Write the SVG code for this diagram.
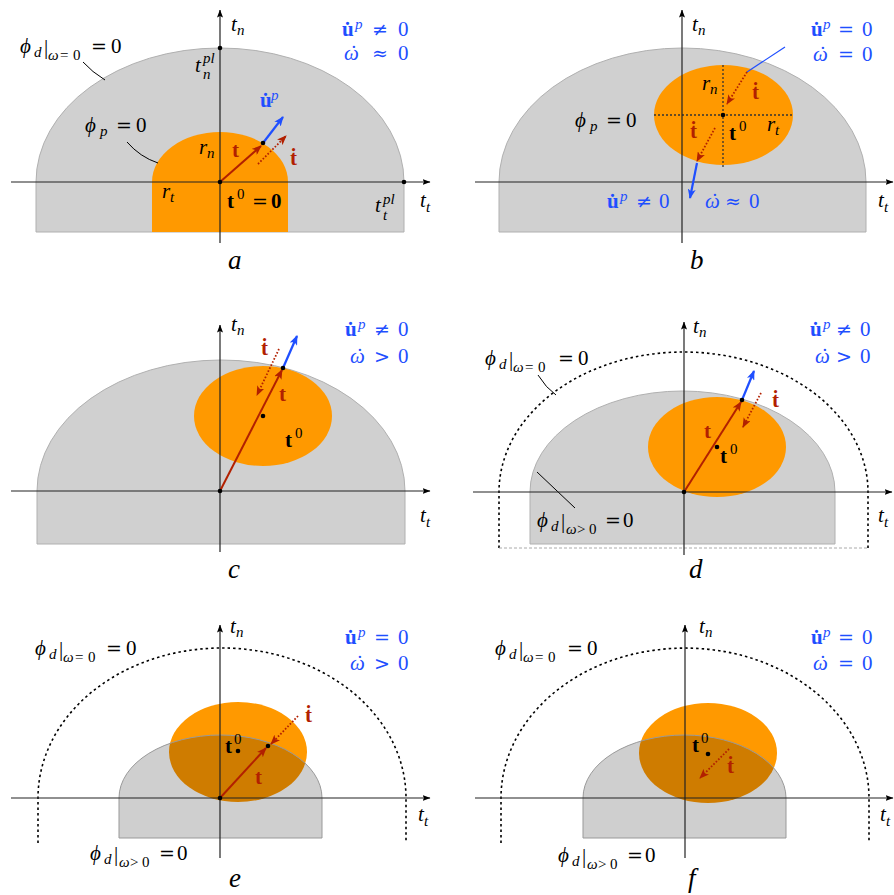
<svg xmlns="http://www.w3.org/2000/svg" width="894" height="895" viewBox="0 0 894 895">
<style>
text { font-family: "Liberation Serif", "DejaVu Serif", serif; font-size: 21px; fill: #000; }
.i { font-style: italic; }
.b { font-weight: bold; }
.s { font-size: 15px; }
.r { font-family: "DejaVu Serif", serif; font-size: 19px; font-style: normal; }
.blue { fill: #1f4fff; }
.red { fill: #b22000; }
.lab { font-size: 27px; font-style: italic; }
.gray { fill: #d0d0d0; stroke: #b0b0b0; stroke-width: 1; }
.grayt { fill: #000; fill-opacity: 0.19; stroke: #999; stroke-width: 1; }
.orange { fill: #ff9900; stroke: none; }
.axis { stroke: #222; stroke-width: 1.2; fill: none; marker-end: url(#ak); }
.outer { stroke: #000; stroke-width: 1.6; stroke-dasharray: 2.5 3; fill: none; }
.lead { stroke: #000; stroke-width: 1; fill: none; }
.rv { stroke: #b22000; stroke-width: 2; fill: none; marker-end: url(#ar); }
.rd { stroke: #b22000; stroke-width: 1.8; stroke-dasharray: 1.6 1.8; fill: none; marker-end: url(#ar); }
.bv { stroke: #1f4fff; stroke-width: 2.2; fill: none; marker-end: url(#ab); }
.cd { stroke: #333; stroke-width: 1.3; stroke-dasharray: 2 2; fill: none; }
</style>
<defs>
<marker id="ar" viewBox="0 0 10 8" markerWidth="10" markerHeight="8" refX="9" refY="4" orient="auto" markerUnits="userSpaceOnUse"><path d="M0,0 L10,4 L0,8 L2.5,4 Z" fill="#b22000"/></marker>
<marker id="ab" viewBox="0 0 10 8" markerWidth="10" markerHeight="8" refX="9" refY="4" orient="auto" markerUnits="userSpaceOnUse"><path d="M0,0 L10,4 L0,8 L2.5,4 Z" fill="#1f4fff"/></marker>
<marker id="ak" viewBox="0 0 8 6" markerWidth="8" markerHeight="6" refX="7.5" refY="3" orient="auto" markerUnits="userSpaceOnUse"><path d="M0,0 L8,3 L0,6 L1.5,3 Z" fill="#000"/></marker>
</defs>
<rect x="0" y="0" width="894" height="895" fill="#fff"/>

<!-- Panel a -->
<g id="panel-a">
<path class="gray" d="M36,182 A184,134 0 0 1 404,182 L404,232 L36,232 Z"/>
<path class="orange" d="M152,182 A68,50 0 0 1 288,182 L288,232 L152,232 Z"/>
<path class="lead" d="M83,62 Q92,72 105,80"/>
<path class="lead" d="M127,142 Q140,157 158,163"/>
<path class="axis" d="M11,182 L430,182"/>
<path class="axis" d="M220,243 L220,10"/>
<path class="rv" d="M220,182 L261,146"/>
<path class="bv" d="M263,143 L283,117"/>
<path class="rd" d="M258,164 L286,136"/>
<circle cx="220" cy="182" r="2.3"/>
<circle cx="220" cy="48" r="2.3"/>
<circle cx="404" cy="182" r="2.3"/>
<circle cx="263" cy="143" r="2.3"/>
<text class="i" x="231" y="31">t</text><text class="i s" x="237" y="35">n</text>
<text y="36" class="blue"><tspan x="342" class="b">u̇</tspan><tspan x="355" dy="-7" class="i s">p</tspan><tspan x="372" dy="7" class="r">≠</tspan><tspan x="398">0</tspan></text>
<text y="60" class="blue"><tspan x="344" class="i">ω</tspan><tspan x="349" class="i">˙</tspan><tspan x="372" class="r">≈</tspan><tspan x="398">0</tspan></text>
<text y="53"><tspan x="20" class="i">ϕ</tspan><tspan x="34" dy="4" class="i s">d</tspan><tspan x="44" dy="-3">|</tspan><tspan x="48" dy="6" class="i s">ω</tspan><tspan x="60" class="s">=</tspan><tspan x="73" class="s">0</tspan><tspan x="91" dy="-7" class="r">=</tspan><tspan x="111">0</tspan></text>
<text class="i" x="195" y="72">t</text><text class="i s" x="203" y="63">pl</text><text class="i s" x="203" y="79">n</text>
<text class="i" x="375" y="212">t</text><text class="i s" x="383" y="204">pl</text><text class="i s" x="383" y="220">t</text>
<text class="i" x="420" y="207">t</text><text class="i s" x="426" y="212">t</text>
<text y="132"><tspan x="85" class="i">ϕ</tspan><tspan x="100" dy="4" class="i s">p</tspan><tspan x="116" dy="-4" class="r">=</tspan><tspan x="136">0</tspan></text>
<text class="i" x="199" y="154">r</text><text class="i s" x="207" y="158">n</text>
<text class="i" x="162" y="198">r</text><text class="i s" x="170" y="202">t</text>
<text y="208"><tspan x="227" class="b">t</tspan><tspan x="237" dy="-9" class="s">0</tspan><tspan x="252" dy="9" class="r">=</tspan><tspan x="271" class="b">0</tspan></text>
<text class="b red" x="232" y="157">t</text>
<text class="b red" x="290" y="165">ṫ</text>
<text class="b blue" x="260" y="107">u̇</text><text class="i s blue" x="271" y="100">p</text>
<text class="lab" x="228" y="269">a</text>
</g>

<!-- Panel b -->
<g id="panel-b">
<path class="gray" d="M499,182 A183.5,134 0 0 1 866,182 L866,232 L499,232 Z"/>
<ellipse class="orange" cx="723.5" cy="115" rx="69.5" ry="50"/>
<path class="cd" d="M654,115 L793,115 M723,65 L723,168"/>
<path class="axis" d="M475,182 L893,182"/>
<path class="axis" d="M682,243 L682,10"/>
<path d="M785,47 L747,72" stroke="#1f4fff" stroke-width="1.2" fill="none"/>
<path class="rd" d="M747,72 L727,104"/>
<path class="rd" d="M715,128 L697,161"/>
<path class="bv" d="M697,163 L690,198"/>
<circle cx="723" cy="115" r="2.3"/>
<text class="i" x="692" y="31">t</text><text class="i s" x="698" y="35">n</text>
<text y="36" class="blue"><tspan x="811" class="b">u̇</tspan><tspan x="823" dy="-7" class="i s">p</tspan><tspan x="838" dy="7" class="r">=</tspan><tspan x="862">0</tspan></text>
<text y="61" class="blue"><tspan x="813" class="i">ω</tspan><tspan x="818" class="i">˙</tspan><tspan x="838" class="r">=</tspan><tspan x="862">0</tspan></text>
<text y="127"><tspan x="575" class="i">ϕ</tspan><tspan x="590" dy="4" class="i s">p</tspan><tspan x="606" dy="-4" class="r">=</tspan><tspan x="626">0</tspan></text>
<text class="i" x="702" y="90">r</text><text class="i s" x="710" y="94">n</text>
<text class="i" x="767" y="131">r</text><text class="i s" x="775" y="135">t</text>
<text class="b red" x="752" y="99">ṫ</text>
<text class="b red" x="690" y="138">ṫ</text>
<text y="140"><tspan x="729" class="b">t</tspan><tspan x="739" dy="-9" class="s">0</tspan></text>
<text y="208" class="blue"><tspan x="607" class="b">u̇</tspan><tspan x="620" dy="-7" class="i s">p</tspan><tspan x="636" dy="7" class="r">≠</tspan><tspan x="659">0</tspan></text>
<text y="208" class="blue"><tspan x="705" class="i">ω</tspan><tspan x="710" class="i">˙</tspan><tspan x="725" class="r">≈</tspan><tspan x="749">0</tspan></text>
<text class="i" x="878" y="207">t</text><text class="i s" x="884" y="212">t</text>
<text class="lab" x="690" y="269">b</text>
</g>

<!-- Panel c -->
<g id="panel-c">
<path class="gray" d="M37,491 A184,131 0 0 1 405,491 L405,544 L37,544 Z"/>
<ellipse class="orange" cx="263" cy="416" rx="69" ry="50"/>
<path class="axis" d="M11,491 L430,491"/>
<path class="axis" d="M220,552 L220,325"/>
<path class="rv" d="M220,491 L282,370"/>
<path class="bv" d="M283,368 L297,336"/>
<path class="rd" d="M279,349 L257,395"/>
<circle cx="220" cy="491" r="2.3"/>
<circle cx="283" cy="368" r="2.3"/>
<circle cx="263" cy="416" r="2.3"/>
<text class="i" x="231" y="331">t</text><text class="i s" x="237" y="335">n</text>
<text y="336" class="blue"><tspan x="345" class="b">u̇</tspan><tspan x="358" dy="-7" class="i s">p</tspan><tspan x="374" dy="7" class="r">≠</tspan><tspan x="398">0</tspan></text>
<text y="363" class="blue"><tspan x="350" class="i">ω</tspan><tspan x="355" class="i">˙</tspan><tspan x="374" class="r">&gt;</tspan><tspan x="398">0</tspan></text>
<text class="b red" x="261" y="355">ṫ</text>
<text class="b red" x="279" y="401">t</text>
<text y="447"><tspan x="285" class="b">t</tspan><tspan x="295" dy="-9" class="s">0</tspan></text>
<text class="i" x="420" y="522">t</text><text class="i s" x="426" y="527">t</text>
<text class="lab" x="228" y="578">c</text>
</g>

<!-- Panel d -->
<g id="panel-d">
<path class="gray" d="M530,492 A152.5,101 0 0 1 835,492 L835,544 L530,544 Z"/>
<path class="outer" d="M499,548 L499,492 A184.5,140 0 0 1 868,492 L868,548"/>
<path d="M499,548 L868,548" stroke="#aaa" stroke-width="1" stroke-dasharray="3 2" fill="none"/>
<ellipse class="orange" cx="717" cy="447" rx="69" ry="50"/>
<path class="lead" d="M538,375 Q546,388 556,395"/>
<path class="lead" d="M537,472 L575,508"/>
<path class="axis" d="M473,492 L892,492"/>
<path class="axis" d="M684,555 L684,322"/>
<path class="rv" d="M684,492 L741,402"/>
<path class="bv" d="M742,400 L754,371"/>
<path class="rd" d="M761,393 L743,427"/>
<circle cx="684" cy="492" r="2.3"/>
<circle cx="742" cy="400" r="2.3"/>
<circle cx="717" cy="447" r="2.3"/>
<text class="i" x="693" y="333">t</text><text class="i s" x="699" y="337">n</text>
<text y="336" class="blue"><tspan x="810" class="b">u̇</tspan><tspan x="823" dy="-7" class="i s">p</tspan><tspan x="836" dy="7" class="r">≠</tspan><tspan x="860">0</tspan></text>
<text y="363" class="blue"><tspan x="815" class="i">ω</tspan><tspan x="820" class="i">˙</tspan><tspan x="836" class="r">&gt;</tspan><tspan x="860">0</tspan></text>
<text y="365"><tspan x="485" class="i">ϕ</tspan><tspan x="499" dy="4" class="i s">d</tspan><tspan x="509" dy="-3">|</tspan><tspan x="513" dy="6" class="i s">ω</tspan><tspan x="525" class="s">=</tspan><tspan x="538" class="s">0</tspan><tspan x="558" dy="-7" class="r">=</tspan><tspan x="578">0</tspan></text>
<text class="b red" x="772" y="407">ṫ</text>
<text class="b red" x="704" y="438">t</text>
<text y="463"><tspan x="720" class="b">t</tspan><tspan x="730" dy="-9" class="s">0</tspan></text>
<text y="527"><tspan x="537" class="i">ϕ</tspan><tspan x="551" dy="4" class="i s">d</tspan><tspan x="561" dy="-3">|</tspan><tspan x="566" dy="6" class="i s">ω</tspan><tspan x="577" class="s">&gt;</tspan><tspan x="589" class="s">0</tspan><tspan x="605" dy="-7" class="r">=</tspan><tspan x="623">0</tspan></text>
<text class="i" x="878" y="522">t</text><text class="i s" x="884" y="527">t</text>
<text class="lab" x="689" y="578">d</text>
</g>

<!-- Panel e -->
<g id="panel-e">
<path class="outer" d="M38,843 L38,798 A184,150 0 0 1 406,798 L406,843"/>
<ellipse class="orange" cx="238" cy="752" rx="69" ry="50"/>
<path class="grayt" d="M119,798 A101.5,63 0 0 1 322,798 L322,838 L119,838 Z"/>
<path class="axis" d="M11,798 L430,798"/>
<path class="axis" d="M220,858 L220,625"/>
<path class="rv" d="M220,798 L266,748"/>
<path class="rd" d="M298,716 L271,744"/>
<circle cx="220" cy="798" r="2.3"/>
<circle cx="268" cy="746" r="2.3"/>
<circle cx="238" cy="751" r="2.3"/>
<text class="i" x="230" y="633">t</text><text class="i s" x="236" y="637">n</text>
<text y="644" class="blue"><tspan x="345" class="b">u̇</tspan><tspan x="358" dy="-7" class="i s">p</tspan><tspan x="374" dy="7" class="r">=</tspan><tspan x="398">0</tspan></text>
<text y="670" class="blue"><tspan x="350" class="i">ω</tspan><tspan x="355" class="i">˙</tspan><tspan x="374" class="r">&gt;</tspan><tspan x="398">0</tspan></text>
<text y="655"><tspan x="35" class="i">ϕ</tspan><tspan x="49" dy="4" class="i s">d</tspan><tspan x="59" dy="-3">|</tspan><tspan x="63" dy="6" class="i s">ω</tspan><tspan x="75" class="s">=</tspan><tspan x="88" class="s">0</tspan><tspan x="106" dy="-7" class="r">=</tspan><tspan x="126">0</tspan></text>
<text class="b red" x="305" y="722">ṫ</text>
<text y="753"><tspan x="225" class="b">t</tspan><tspan x="234" dy="-9" class="s">0</tspan></text>
<text class="b red" x="255" y="784">t</text>
<text class="i" x="418" y="821">t</text><text class="i s" x="424" y="826">t</text>
<text y="860"><tspan x="90" class="i">ϕ</tspan><tspan x="104" dy="4" class="i s">d</tspan><tspan x="114" dy="-3">|</tspan><tspan x="119" dy="6" class="i s">ω</tspan><tspan x="130" class="s">&gt;</tspan><tspan x="142" class="s">0</tspan><tspan x="159" dy="-7" class="r">=</tspan><tspan x="177">0</tspan></text>
<text class="lab" x="229" y="887">e</text>
</g>

<!-- Panel f -->
<g id="panel-f">
<path class="outer" d="M501,843 L501,798 A184,150 0 0 1 869,798 L869,843"/>
<ellipse class="orange" cx="708" cy="753" rx="69" ry="50"/>
<path class="grayt" d="M583,798 A101.5,63 0 0 1 786,798 L786,838 L583,838 Z"/>
<path class="axis" d="M475,798 L893,798"/>
<path class="axis" d="M685,858 L685,625"/>
<path class="rd" d="M729,749 L700,778"/>
<circle cx="708" cy="754" r="2.3"/>
<text class="i" x="699" y="633">t</text><text class="i s" x="705" y="637">n</text>
<text y="644" class="blue"><tspan x="811" class="b">u̇</tspan><tspan x="823" dy="-7" class="i s">p</tspan><tspan x="838" dy="7" class="r">=</tspan><tspan x="862">0</tspan></text>
<text y="670" class="blue"><tspan x="813" class="i">ω</tspan><tspan x="818" class="i">˙</tspan><tspan x="838" class="r">=</tspan><tspan x="862">0</tspan></text>
<text y="655"><tspan x="495" class="i">ϕ</tspan><tspan x="509" dy="4" class="i s">d</tspan><tspan x="519" dy="-3">|</tspan><tspan x="523" dy="6" class="i s">ω</tspan><tspan x="535" class="s">=</tspan><tspan x="548" class="s">0</tspan><tspan x="567" dy="-7" class="r">=</tspan><tspan x="587">0</tspan></text>
<text y="752"><tspan x="692" class="b">t</tspan><tspan x="701" dy="-9" class="s">0</tspan></text>
<text class="b red" x="727" y="773">ṫ</text>
<text class="i" x="880" y="821">t</text><text class="i s" x="886" y="826">t</text>
<text y="862"><tspan x="558" class="i">ϕ</tspan><tspan x="572" dy="4" class="i s">d</tspan><tspan x="582" dy="-3">|</tspan><tspan x="587" dy="6" class="i s">ω</tspan><tspan x="598" class="s">&gt;</tspan><tspan x="610" class="s">0</tspan><tspan x="627" dy="-7" class="r">=</tspan><tspan x="645">0</tspan></text>
<text class="lab" x="688" y="887">f</text>
</g>
</svg>
